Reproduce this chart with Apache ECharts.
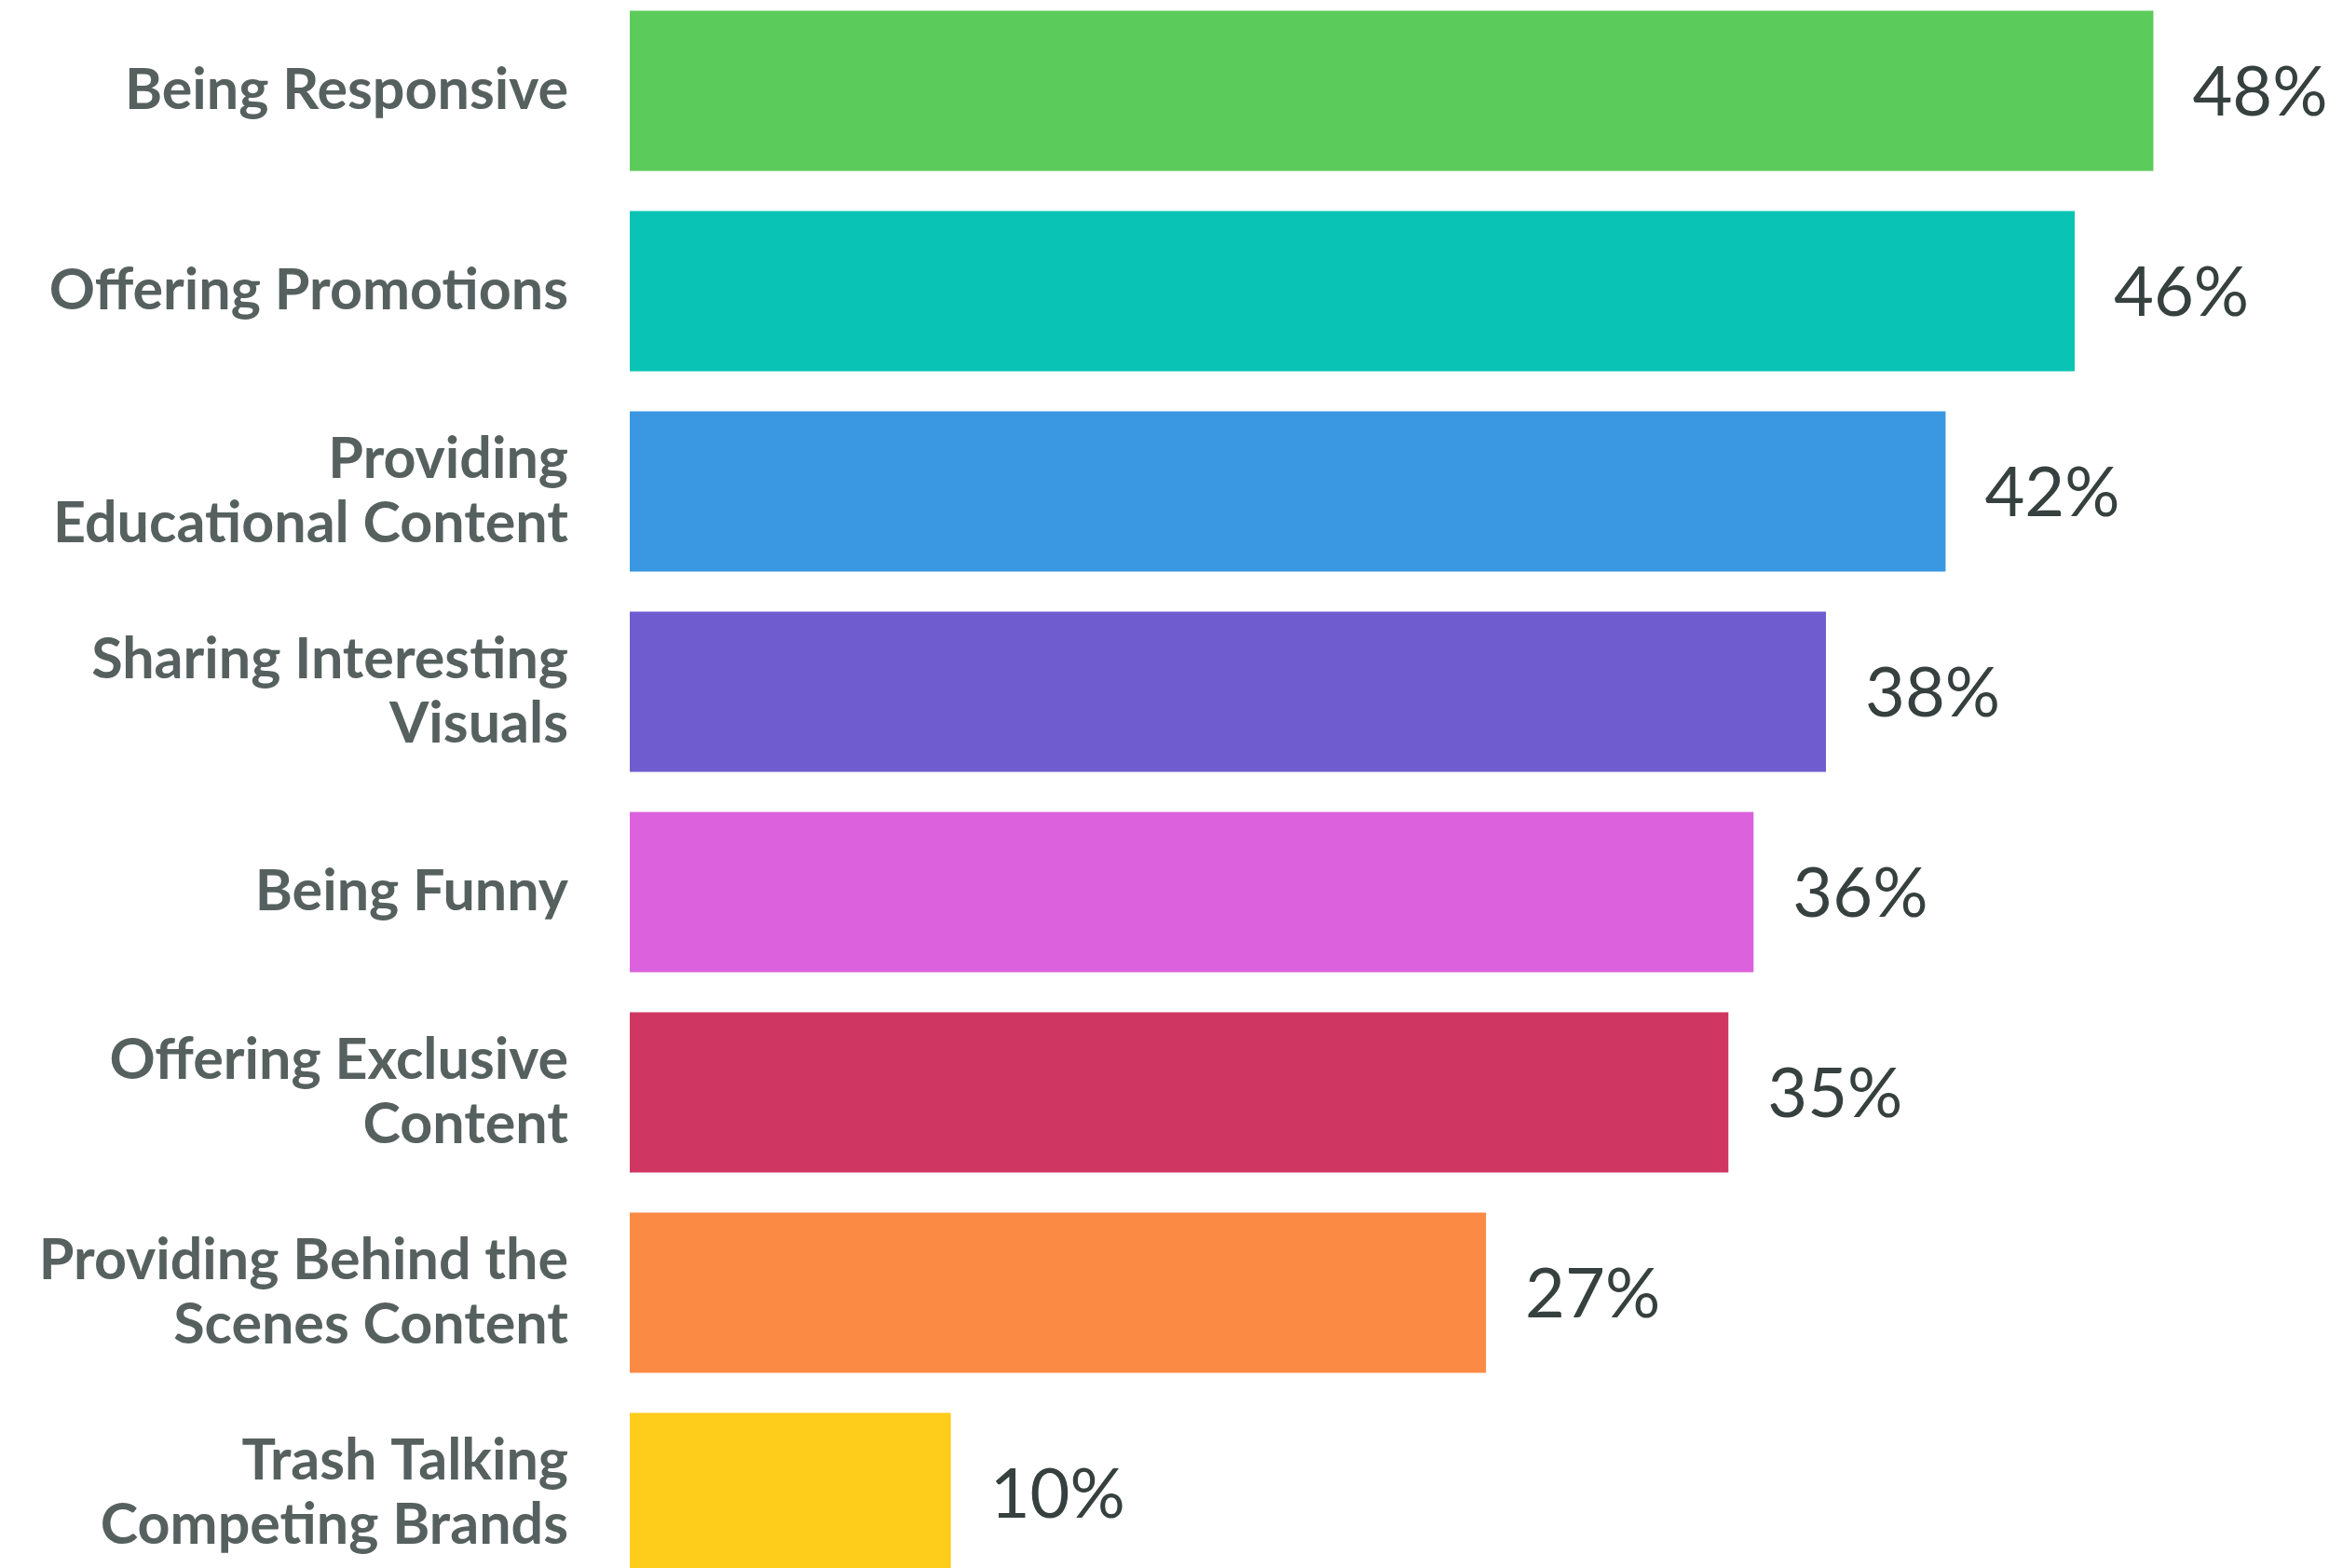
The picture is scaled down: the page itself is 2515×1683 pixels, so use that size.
<!DOCTYPE html>
<html>
<head>
<meta charset="utf-8">
<script src="https://cdn.jsdelivr.net/npm/echarts@6/dist/echarts.min.js"></script>
<style>
html,body{margin:0;padding:0;background:#fff;overflow:hidden;width:2515px;height:1683px;}
#chart{position:absolute;left:0;top:-10px;width:2515px;height:1720px;}
</style>
</head>
<body>
<div id="chart"></div>
<script>
var categories = [
  'Being Responsive',
  'Offering Promotions',
  'Providing\nEducational Content',
  'Sharing Interesting\nVisuals',
  'Being Funny',
  'Offering Exclusive\nContent',
  'Providing Behind the\nScenes Content',
  'Trash Talking\nCompeting Brands'
];
var values = [48.4, 45.9, 41.8, 38.0, 35.7, 34.9, 27.2, 10.2];
var colors = ['#5bcb5b', '#09c4b4', '#3a97e2', '#6f5dd0', '#db62dc', '#cf3762', '#fb8a45', '#fecd1c'];

var chart = echarts.init(document.getElementById('chart'));
chart.setOption({
  animation: false,
  backgroundColor: '#ffffff',
  grid: { left: 676, top: 0, bottom: 0, right: 149.5, containLabel: false },
  xAxis: {
    type: 'value', min: 0, max: 50,
    show: false,
    splitLine: { show: false }
  },
  yAxis: {
    type: 'category',
    inverse: true,
    data: categories,
    axisLine: { show: false },
    axisTick: { show: false },
    axisLabel: {
      margin: 66,
      fontFamily: 'Lato',
      fontWeight: 'bold',
      fontSize: 61,
      lineHeight: 69,
      color: '#56615f',
      align: 'right'
    }
  },
  series: [{
    type: 'bar',
    barWidth: 172,
    data: values.map(function (v, i) {
      return { value: v, itemStyle: { color: colors[i] } };
    }),
    label: {
      show: true,
      position: 'right',
      distance: 42,
      offset: [0, 3],
      fontFamily: 'Lato',
      fontSize: 74,
      fontWeight: 'normal',
      color: '#36403f',
      formatter: function (p) { return Math.round(p.value) + '%'; }
    }
  }]
});
</script>
</body>
</html>
